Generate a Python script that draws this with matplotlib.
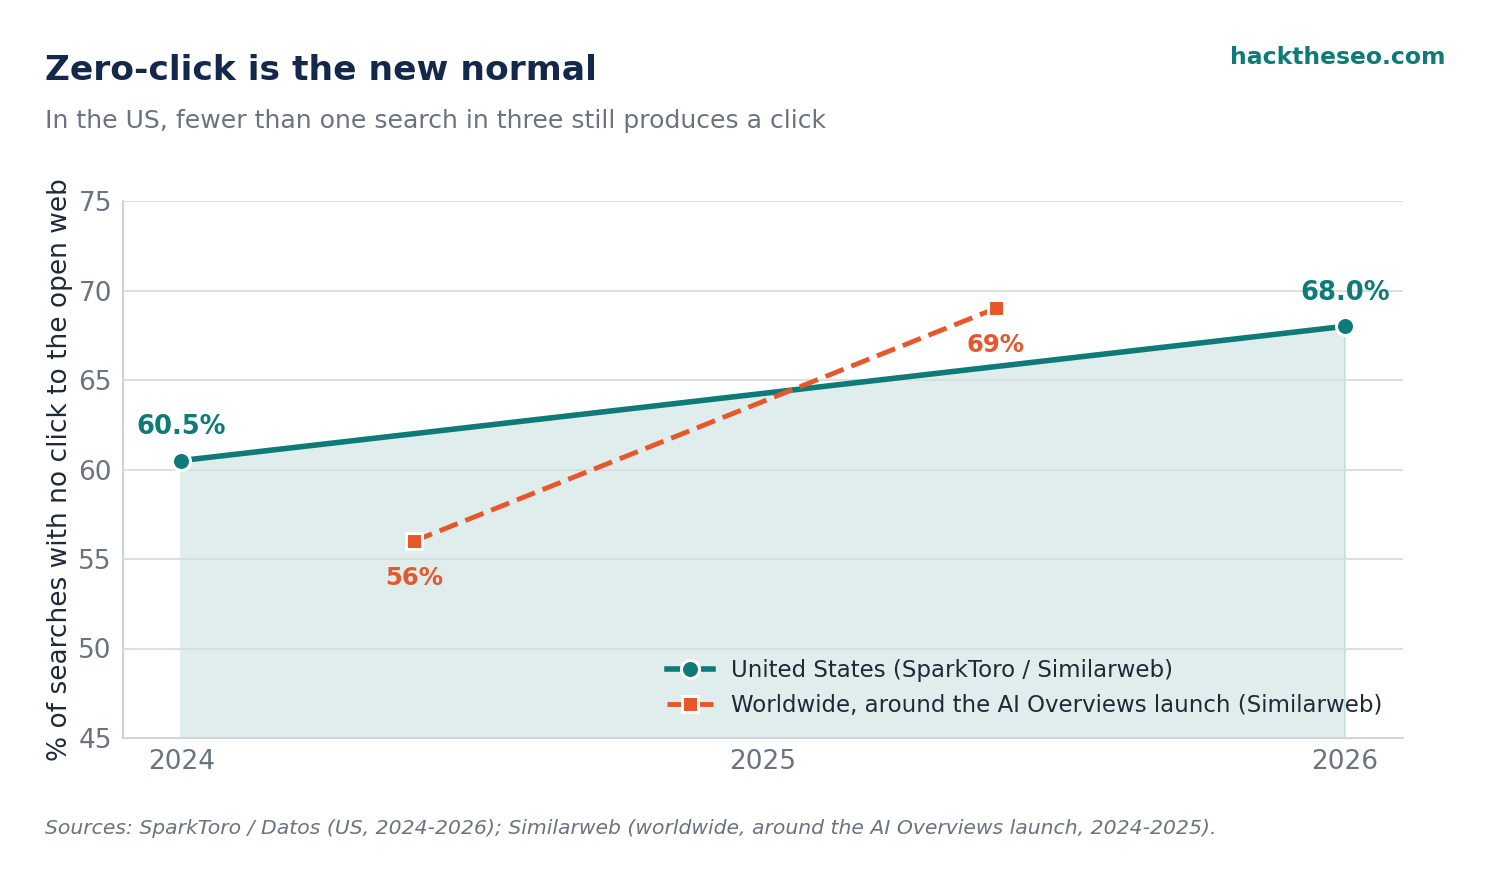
import numpy as np
from matplotlib import pyplot as plt

# data
us_years = [2024, 2026]
us_values = [60.5, 68.0]
us_labels = ["60.5%", "68.0%"]

ww_years = [2024.4, 2025.4]
ww_values = [56, 69]
ww_labels = ["56%", "69%"]

xticks = [2024, 2025, 2026]
yticks = [45, 50, 55, 60, 65, 70, 75]

teal = "#0f7b78"
orange = "#e8572c"
navy = "#14284b"
grey = "#6b7280"

fig = plt.figure(figsize=(14.89, 8.84), dpi=100)
ax = fig.add_axes([123 / 1489, 1 - 738 / 884, 1280 / 1489, 537 / 884])

ax.fill_between(us_years, us_values, 45, color=teal, alpha=0.13, zorder=1, lw=0)
ax.plot([us_years[0]] * 2, [45, us_values[0]], color=teal, alpha=0.15, lw=1.2, zorder=1)
ax.plot([us_years[1]] * 2, [45, us_values[1]], color=teal, alpha=0.15, lw=1.2, zorder=1)

ax.plot(us_years, us_values, color=teal, lw=4, marker="o", markersize=13,
        markeredgecolor="white", markeredgewidth=2.2, zorder=4,
        label="United States (SparkToro / Similarweb)")
ax.plot(ww_years, ww_values, color=orange, lw=3.5, ls=(0, (4, 1.7)), marker="s",
        markersize=12, markeredgecolor="white", markeredgewidth=2.2, zorder=5,
        label="Worldwide, around the AI Overviews launch (Similarweb)")

for x, y, s in zip(us_years, us_values, us_labels):
    ax.annotate(s, (x, y), xytext=(0, 14.5), textcoords="offset points",
                ha="center", va="bottom", color=teal, fontsize=18.5, fontweight="bold")
for x, y, s in zip(ww_years, ww_values, ww_labels):
    ax.annotate(s, (x, y), xytext=(0, -18), textcoords="offset points",
                ha="center", va="top", color=orange, fontsize=17.5, fontweight="bold")

ax.set_xlim(2023.9, 2026.1)
ax.set_ylim(45, 75)
ax.set_xticks(xticks)
ax.set_yticks(yticks)
ax.tick_params(axis="both", labelsize=19, labelcolor=grey, length=0, pad=8)
ax.grid(axis="y", color="#d9dde2", lw=1.3, zorder=2)
ax.set_axisbelow(False)
for s in ["top", "right"]:
    ax.spines[s].set_visible(False)
for s in ["left", "bottom"]:
    ax.spines[s].set_color("#c8cdd4")
    ax.spines[s].set_linewidth(1.3)

ax.set_ylabel("% of searches with no click to the open web", fontsize=19, color="#1f2937",
              labelpad=4)

leg = ax.legend(loc="lower right", bbox_to_anchor=(1.0, 0.0), frameon=False,
                fontsize=16.5, labelcolor="#1f2937", handlelength=2.0, labelspacing=0.55)

fig.text(45 / 1489, 1 - 70 / 884, "Zero-click is the new normal", fontsize=24.8,
         fontweight="bold", color=navy, va="center")
fig.text(45 / 1489, 1 - 121 / 884, "In the US, fewer than one search in three still produces a click",
         fontsize=18.1, color=grey, va="center")
fig.text(1445 / 1489, 1 - 57 / 884, "hacktheseo.com", fontsize=16.9, fontweight="bold",
         color=teal, ha="right", va="center")
fig.text(45 / 1489, 1 - 829 / 884,
         "Sources: SparkToro / Datos (US, 2024-2026); Similarweb (worldwide, around the AI Overviews launch, 2024-2025).",
         fontsize=14.7, style="italic", color=grey, va="center")

fig.savefig("out.png", dpi=100)
